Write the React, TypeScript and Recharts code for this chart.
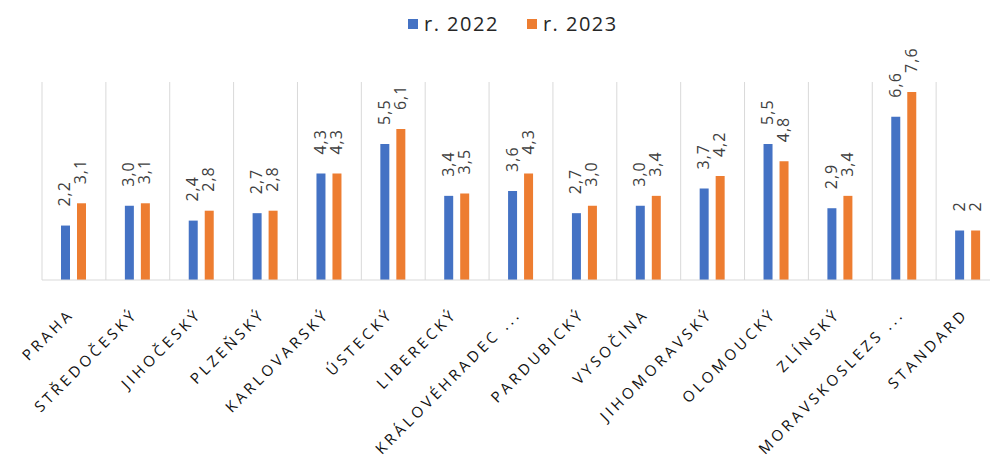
import { BarChart, Bar, XAxis, YAxis, CartesianGrid, Legend, LabelList } from "recharts"

const regions = [
  "PRAHA",
  "STŘEDOČESKÝ",
  "JIHOČESKÝ",
  "PLZEŇSKÝ",
  "KARLOVARSKÝ",
  "ÚSTECKÝ",
  "LIBERECKÝ",
  "KRÁLOVÉHRADEC ...",
  "PARDUBICKÝ",
  "VYSOČINA",
  "JIHOMORAVSKÝ",
  "OLOMOUCKÝ",
  "ZLÍNSKÝ",
  "MORAVSKOSLEZS ...",
  "STANDARD",
]
const values2022 = [2.2, 3.0, 2.4, 2.7, 4.3, 5.5, 3.4, 3.6, 2.7, 3.0, 3.7, 5.5, 2.9, 6.6, 2]
const values2023 = [3.1, 3.1, 2.8, 2.8, 4.3, 6.1, 3.5, 4.3, 3.0, 3.4, 4.2, 4.8, 3.4, 7.6, 2]
// decimals shown in the data labels (STANDARD is printed without decimals)
const labelDecimals = [1, 1, 1, 1, 1, 1, 1, 1, 1, 1, 1, 1, 1, 1, 0]

const data = regions.map((name, i) => ({ name, y2022: values2022[i], y2023: values2023[i] }))

const FONT = "'Open Sans', sans-serif"
const BLUE = "#4472C4"
const ORANGE = "#ED7D31"

function ValueLabel(props: any) {
  const { x, y, width, value, index } = props
  if (value == null) return null
  const bx = Number(x) + Number(width) / 2 + 5
  const by = Number(y) - 19
  const text = Number(value).toFixed(labelDecimals[index] ?? 1).replace(".", ",")
  return (
    <text
      x={bx}
      y={by}
      transform={`rotate(-90, ${bx}, ${by})`}
      textAnchor="start"
      fontFamily={FONT}
      fontSize={16}
      letterSpacing={1}
      fill="#404040"
    >
      {text}
    </text>
  )
}

function CategoryTick(props: any) {
  const { x, y, payload } = props
  const tx = Number(x) + 1
  const ty = Number(y) + 27
  return (
    <text
      x={tx}
      y={ty}
      transform={`rotate(-45, ${tx}, ${ty})`}
      textAnchor="end"
      fontFamily={FONT}
      fontSize={15}
      letterSpacing={3.5}
      fill="#111"
    >
      {payload.value}
    </text>
  )
}

function LegendContent(props: any) {
  const items = props.payload || []
  return (
    <div style={{ display: "flex", alignItems: "center", fontFamily: FONT, fontSize: 20, letterSpacing: 1.5, color: "#262626" }}>
      {items.map((item: any, i: number) => (
        <div key={item.value} style={{ display: "flex", alignItems: "center", marginLeft: i > 0 ? 28 : 0 }}>
          <span style={{ width: 10, height: 10, background: item.color, display: "inline-block", marginRight: 6 }} />
          <span>{item.value}</span>
        </div>
      ))}
    </div>
  )
}

export default function App() {
  const n = regions.length
  return (
    <div style={{ position: "absolute", left: 0, top: 0, width: 990, height: 461, overflow: "hidden", background: "#fff" }}>
      <BarChart
        width={1010}
        height={461}
        data={data}
        margin={{ top: 82, right: 10, bottom: 0, left: 42 }}
        barSize={9}
        barGap={7}
      >
        <CartesianGrid
          horizontal={false}
          stroke="#d9d9d9"
          verticalCoordinatesGenerator={({ offset }: any) => {
            const left = offset ? offset.left : 42
            const w = offset ? offset.width : 958
            return Array.from({ length: n + 1 }, (_, i) => left + (i * w) / n)
          }}
        />
        <XAxis
          dataKey="name"
          height={181}
          interval={0}
          tickLine={false}
          axisLine={{ stroke: "#d9d9d9" }}
          tick={<CategoryTick />}
        />
        <YAxis hide domain={[0, 8]} />
        <Legend
          verticalAlign="middle"
          layout="horizontal"
          wrapperStyle={{ top: 10, left: 408, width: "auto", height: "auto" }}
          content={<LegendContent />}
        />
        <Bar dataKey="y2022" name="r. 2022" fill={BLUE} isAnimationActive={false}>
          <LabelList dataKey="y2022" content={<ValueLabel />} />
        </Bar>
        <Bar dataKey="y2023" name="r. 2023" fill={ORANGE} isAnimationActive={false}>
          <LabelList dataKey="y2023" content={<ValueLabel />} />
        </Bar>
      </BarChart>
    </div>
  )
}
